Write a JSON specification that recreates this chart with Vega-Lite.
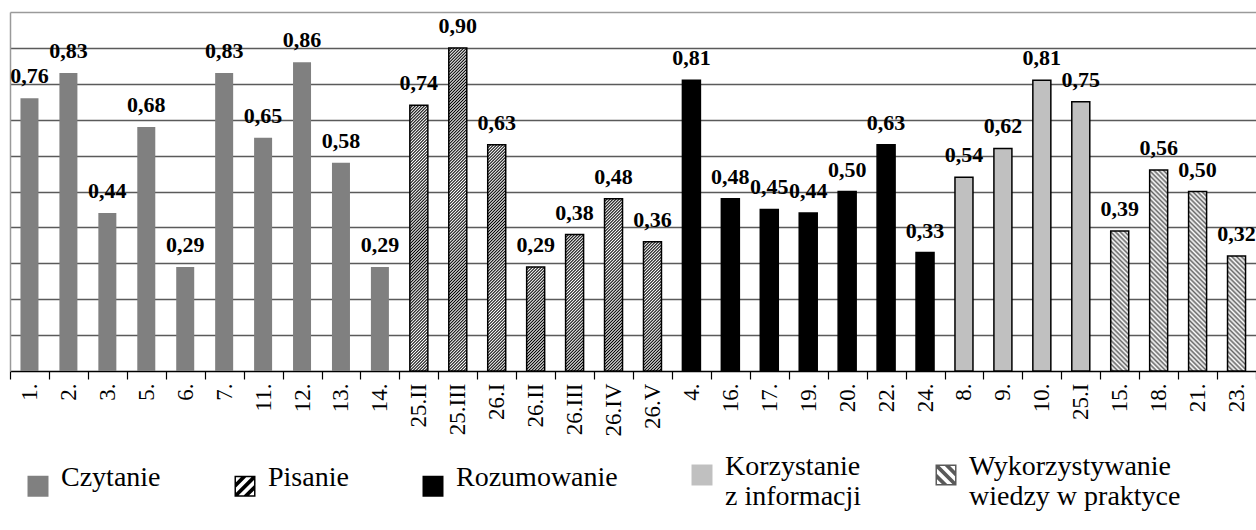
{
"$schema":"https://vega.github.io/schema/vega-lite/v6.json",
"width":1246,"height":359,
"autosize":{"type":"none"},
"padding":{"left":10,"top":12,"right":0,"bottom":159},
"background":"white",
"config":{"view":{"stroke":null},"font":"Liberation Serif"},
"data":{"values":[
{"q":"1.","v":0.76,"skill":"Czytanie"},
{"q":"2.","v":0.83,"skill":"Czytanie"},
{"q":"3.","v":0.44,"skill":"Czytanie"},
{"q":"5.","v":0.68,"skill":"Czytanie"},
{"q":"6.","v":0.29,"skill":"Czytanie"},
{"q":"7.","v":0.83,"skill":"Czytanie"},
{"q":"11.","v":0.65,"skill":"Czytanie"},
{"q":"12.","v":0.86,"skill":"Czytanie"},
{"q":"13.","v":0.58,"skill":"Czytanie"},
{"q":"14.","v":0.29,"skill":"Czytanie"},
{"q":"25.II","v":0.74,"skill":"Pisanie"},
{"q":"25.III","v":0.90,"skill":"Pisanie"},
{"q":"26.I","v":0.63,"skill":"Pisanie"},
{"q":"26.II","v":0.29,"skill":"Pisanie"},
{"q":"26.III","v":0.38,"skill":"Pisanie"},
{"q":"26.IV","v":0.48,"skill":"Pisanie"},
{"q":"26.V","v":0.36,"skill":"Pisanie"},
{"q":"4.","v":0.81,"skill":"Rozumowanie"},
{"q":"16.","v":0.48,"skill":"Rozumowanie"},
{"q":"17.","v":0.45,"skill":"Rozumowanie"},
{"q":"19.","v":0.44,"skill":"Rozumowanie"},
{"q":"20.","v":0.50,"skill":"Rozumowanie"},
{"q":"22.","v":0.63,"skill":"Rozumowanie"},
{"q":"24.","v":0.33,"skill":"Rozumowanie"},
{"q":"8.","v":0.54,"skill":"Korzystanie z informacji"},
{"q":"9.","v":0.62,"skill":"Korzystanie z informacji"},
{"q":"10.","v":0.81,"skill":"Korzystanie z informacji"},
{"q":"25.I","v":0.75,"skill":"Korzystanie z informacji"},
{"q":"15.","v":0.39,"skill":"Wykorzystywanie wiedzy w praktyce"},
{"q":"18.","v":0.56,"skill":"Wykorzystywanie wiedzy w praktyce"},
{"q":"21.","v":0.50,"skill":"Wykorzystywanie wiedzy w praktyce"},
{"q":"23.","v":0.32,"skill":"Wykorzystywanie wiedzy w praktyce"}
]},
"transform":[
{"calculate":"datum.v - 1","as":"lo"},
{"calculate":"replace(format(datum.v, '.2f'), '.', ',')","as":"lbl"}
],
"encoding":{
"x":{"field":"q","type":"nominal",
 "sort":["1.","2.","3.","5.","6.","7.","11.","12.","13.","14.","25.II","25.III","26.I","26.II","26.III","26.IV","26.V","4.","16.","17.","19.","20.","22.","24.","8.","9.","10.","25.I","15.","18.","21.","23."],
 "scale":{"paddingInner":0,"paddingOuter":0},
 "axis":{"title":null,"labelAngle":-90,"labelFont":"Liberation Serif","labelFontSize":23,"labelColor":"#000","tickBand":"extent","tickColor":"#000","tickSize":8,"tickWidth":1.2,"domainColor":"#000","domainWidth":1.5,"labelPadding":4,"grid":false}},
"y":{"field":"v","type":"quantitative","scale":{"domain":[0,1],"nice":false},
 "axis":{"title":null,"labels":false,"ticks":false,"domain":true,"domainColor":"#9a9a9a","domainWidth":1.5,"grid":true,"values":[0.1,0.2,0.3,0.4,0.5,0.6,0.7,0.8,0.9,1],
 "gridColor":{"condition":{"test":"datum.value >= 0.999","value":"#9a9a9a"},"value":"#5a5a5a"},"gridWidth":1.4}}
},
"layer":[
{"mark":{"type":"point","filled":true,"opacity":0,"size":1},
 "encoding":{
  "shape":{"field":"skill","type":"nominal",
   "scale":{"domain":["Czytanie","Pisanie","Rozumowanie","Korzystanie z informacji","Wykorzystywanie wiedzy w praktyce"],
    "range":["square",
     "M-1,-1H1V1H-1Z M-0.86,-0.86V0.86H0.86V-0.86Z M-1,-0.25L-0.25,-1L0.25,-1L-1,0.25Z M-1,0.75L0.75,-1L1,-1L1,-0.75L-0.75,1L-1,1Z M-0.25,1L1,-0.25L1,0.25L0.25,1Z",
     "square","square",
     "M-1,-1H1V1H-1Z M-0.86,-0.86V0.86H0.86V-0.86Z M1,0.25L-0.25,-1L0.25,-1L1,-0.25Z M1,1L0.75,1L-1,-0.75L-1,-1L-0.75,-1L1,0.75Z M-0.25,1L-1,0.25L-1,-0.25L0.25,1Z"]},
   "legend":{"title":null,"orient":"none","legendX":14,"legendY":449,"direction":"horizontal","columns":5,"columnPadding":70,"symbolSize":441,"symbolStrokeWidth":1.5,"symbolStrokeColor":"#000","labelFont":"Liberation Serif","labelFontSize":28,"labelColor":"#000","labelLimit":400,"labelOffset":9,"labelBaseline":"alphabetic","padding":0,
    "labelExpr":"datum.label === 'Korzystanie z informacji' ? ['Korzystanie', 'z informacji'] : datum.label === 'Wykorzystywanie wiedzy w praktyce' ? ['Wykorzystywanie', 'wiedzy w praktyce'] : datum.label"}}
 }},
{"transform":[{"filter":"datum.skill === 'Czytanie' || datum.skill === 'Rozumowanie' || datum.skill === 'Korzystanie z informacji'"}],
 "mark":{"type":"bar","size":18},
 "encoding":{
  "fill":{"field":"skill","type":"nominal",
   "scale":{"domain":["Czytanie","Pisanie","Rozumowanie","Korzystanie z informacji","Wykorzystywanie wiedzy w praktyce"],"range":["#808080","#000000","#000000","#c0c0c0","#5a5a5a"]},
   "legend":null},
  "stroke":{"value":"#000000"},
  "strokeWidth":{"condition":{"test":"datum.skill === 'Czytanie'","value":0},"value":1.5}
 }},
{"transform":[{"filter":"datum.skill === 'Pisanie' || datum.skill === 'Wykorzystywanie wiedzy w praktyce'"}],
 "mark":{"type":"bar","size":18,"clip":true},
 "encoding":{
  "y":{"field":"v","type":"quantitative"},
  "y2":{"field":"lo"},
  "fill":{"condition":{"test":"datum.skill === 'Pisanie'","value":{"gradient":"linear","x1":0,"y1":0,"x2":0.0525,"y2":1.0475,"stops":[
{"offset":0,"color":"#000"},{"offset":0.004,"color":"#fff"},{"offset":0.008,"color":"#000"},{"offset":0.012,"color":"#fff"},{"offset":0.016,"color":"#000"},{"offset":0.02,"color":"#fff"},{"offset":0.024,"color":"#000"},{"offset":0.028,"color":"#fff"},{"offset":0.032,"color":"#000"},{"offset":0.036,"color":"#fff"},
{"offset":0.04,"color":"#000"},{"offset":0.044,"color":"#fff"},{"offset":0.048,"color":"#000"},{"offset":0.052,"color":"#fff"},{"offset":0.056,"color":"#000"},{"offset":0.06,"color":"#fff"},{"offset":0.064,"color":"#000"},{"offset":0.068,"color":"#fff"},{"offset":0.072,"color":"#000"},{"offset":0.076,"color":"#fff"},
{"offset":0.08,"color":"#000"},{"offset":0.084,"color":"#fff"},{"offset":0.088,"color":"#000"},{"offset":0.092,"color":"#fff"},{"offset":0.096,"color":"#000"},{"offset":0.1,"color":"#fff"},{"offset":0.104,"color":"#000"},{"offset":0.108,"color":"#fff"},{"offset":0.112,"color":"#000"},{"offset":0.116,"color":"#fff"},
{"offset":0.12,"color":"#000"},{"offset":0.124,"color":"#fff"},{"offset":0.128,"color":"#000"},{"offset":0.132,"color":"#fff"},{"offset":0.136,"color":"#000"},{"offset":0.14,"color":"#fff"},{"offset":0.144,"color":"#000"},{"offset":0.148,"color":"#fff"},{"offset":0.152,"color":"#000"},{"offset":0.156,"color":"#fff"},
{"offset":0.16,"color":"#000"},{"offset":0.164,"color":"#fff"},{"offset":0.168,"color":"#000"},{"offset":0.172,"color":"#fff"},{"offset":0.176,"color":"#000"},{"offset":0.18,"color":"#fff"},{"offset":0.184,"color":"#000"},{"offset":0.188,"color":"#fff"},{"offset":0.192,"color":"#000"},{"offset":0.196,"color":"#fff"},
{"offset":0.2,"color":"#000"},{"offset":0.204,"color":"#fff"},{"offset":0.208,"color":"#000"},{"offset":0.212,"color":"#fff"},{"offset":0.216,"color":"#000"},{"offset":0.22,"color":"#fff"},{"offset":0.224,"color":"#000"},{"offset":0.228,"color":"#fff"},{"offset":0.232,"color":"#000"},{"offset":0.236,"color":"#fff"},
{"offset":0.24,"color":"#000"},{"offset":0.244,"color":"#fff"},{"offset":0.248,"color":"#000"},{"offset":0.252,"color":"#fff"},{"offset":0.256,"color":"#000"},{"offset":0.26,"color":"#fff"},{"offset":0.264,"color":"#000"},{"offset":0.268,"color":"#fff"},{"offset":0.272,"color":"#000"},{"offset":0.276,"color":"#fff"},
{"offset":0.28,"color":"#000"},{"offset":0.284,"color":"#fff"},{"offset":0.288,"color":"#000"},{"offset":0.292,"color":"#fff"},{"offset":0.296,"color":"#000"},{"offset":0.3,"color":"#fff"},{"offset":0.304,"color":"#000"},{"offset":0.308,"color":"#fff"},{"offset":0.312,"color":"#000"},{"offset":0.316,"color":"#fff"},
{"offset":0.32,"color":"#000"},{"offset":0.324,"color":"#fff"},{"offset":0.328,"color":"#000"},{"offset":0.332,"color":"#fff"},{"offset":0.336,"color":"#000"},{"offset":0.34,"color":"#fff"},{"offset":0.344,"color":"#000"},{"offset":0.348,"color":"#fff"},{"offset":0.352,"color":"#000"},{"offset":0.356,"color":"#fff"},
{"offset":0.36,"color":"#000"},{"offset":0.364,"color":"#fff"},{"offset":0.368,"color":"#000"},{"offset":0.372,"color":"#fff"},{"offset":0.376,"color":"#000"},{"offset":0.38,"color":"#fff"},{"offset":0.384,"color":"#000"},{"offset":0.388,"color":"#fff"},{"offset":0.392,"color":"#000"},{"offset":0.396,"color":"#fff"},
{"offset":0.4,"color":"#000"},{"offset":0.404,"color":"#fff"},{"offset":0.408,"color":"#000"},{"offset":0.412,"color":"#fff"},{"offset":0.416,"color":"#000"},{"offset":0.42,"color":"#fff"},{"offset":0.424,"color":"#000"},{"offset":0.428,"color":"#fff"},{"offset":0.432,"color":"#000"},{"offset":0.436,"color":"#fff"},
{"offset":0.44,"color":"#000"},{"offset":0.444,"color":"#fff"},{"offset":0.448,"color":"#000"},{"offset":0.452,"color":"#fff"},{"offset":0.456,"color":"#000"},{"offset":0.46,"color":"#fff"},{"offset":0.464,"color":"#000"},{"offset":0.468,"color":"#fff"},{"offset":0.472,"color":"#000"},{"offset":0.476,"color":"#fff"},
{"offset":0.48,"color":"#000"},{"offset":0.484,"color":"#fff"},{"offset":0.488,"color":"#000"},{"offset":0.492,"color":"#fff"},{"offset":0.496,"color":"#000"},{"offset":0.5,"color":"#fff"},{"offset":0.504,"color":"#000"},{"offset":0.508,"color":"#fff"},{"offset":0.512,"color":"#000"},{"offset":0.516,"color":"#fff"},
{"offset":0.52,"color":"#000"},{"offset":0.524,"color":"#fff"},{"offset":0.528,"color":"#000"},{"offset":0.532,"color":"#fff"},{"offset":0.536,"color":"#000"},{"offset":0.54,"color":"#fff"},{"offset":0.544,"color":"#000"},{"offset":0.548,"color":"#fff"},{"offset":0.552,"color":"#000"},{"offset":0.556,"color":"#fff"},
{"offset":0.56,"color":"#000"},{"offset":0.564,"color":"#fff"},{"offset":0.568,"color":"#000"},{"offset":0.572,"color":"#fff"},{"offset":0.576,"color":"#000"},{"offset":0.58,"color":"#fff"},{"offset":0.584,"color":"#000"},{"offset":0.588,"color":"#fff"},{"offset":0.592,"color":"#000"},{"offset":0.596,"color":"#fff"},
{"offset":0.6,"color":"#000"},{"offset":0.604,"color":"#fff"},{"offset":0.608,"color":"#000"},{"offset":0.612,"color":"#fff"},{"offset":0.616,"color":"#000"},{"offset":0.62,"color":"#fff"},{"offset":0.624,"color":"#000"},{"offset":0.628,"color":"#fff"},{"offset":0.632,"color":"#000"},{"offset":0.636,"color":"#fff"},
{"offset":0.64,"color":"#000"},{"offset":0.644,"color":"#fff"},{"offset":0.648,"color":"#000"},{"offset":0.652,"color":"#fff"},{"offset":0.656,"color":"#000"},{"offset":0.66,"color":"#fff"},{"offset":0.664,"color":"#000"},{"offset":0.668,"color":"#fff"},{"offset":0.672,"color":"#000"},{"offset":0.676,"color":"#fff"},
{"offset":0.68,"color":"#000"},{"offset":0.684,"color":"#fff"},{"offset":0.688,"color":"#000"},{"offset":0.692,"color":"#fff"},{"offset":0.696,"color":"#000"},{"offset":0.7,"color":"#fff"},{"offset":0.704,"color":"#000"},{"offset":0.708,"color":"#fff"},{"offset":0.712,"color":"#000"},{"offset":0.716,"color":"#fff"},
{"offset":0.72,"color":"#000"},{"offset":0.724,"color":"#fff"},{"offset":0.728,"color":"#000"},{"offset":0.732,"color":"#fff"},{"offset":0.736,"color":"#000"},{"offset":0.74,"color":"#fff"},{"offset":0.744,"color":"#000"},{"offset":0.748,"color":"#fff"},{"offset":0.752,"color":"#000"},{"offset":0.756,"color":"#fff"},
{"offset":0.76,"color":"#000"},{"offset":0.764,"color":"#fff"},{"offset":0.768,"color":"#000"},{"offset":0.772,"color":"#fff"},{"offset":0.776,"color":"#000"},{"offset":0.78,"color":"#fff"},{"offset":0.784,"color":"#000"},{"offset":0.788,"color":"#fff"},{"offset":0.792,"color":"#000"},{"offset":0.796,"color":"#fff"},
{"offset":0.8,"color":"#000"},{"offset":0.804,"color":"#fff"},{"offset":0.808,"color":"#000"},{"offset":0.812,"color":"#fff"},{"offset":0.816,"color":"#000"},{"offset":0.82,"color":"#fff"},{"offset":0.824,"color":"#000"},{"offset":0.828,"color":"#fff"},{"offset":0.832,"color":"#000"},{"offset":0.836,"color":"#fff"},
{"offset":0.84,"color":"#000"},{"offset":0.844,"color":"#fff"},{"offset":0.848,"color":"#000"},{"offset":0.852,"color":"#fff"},{"offset":0.856,"color":"#000"},{"offset":0.86,"color":"#fff"},{"offset":0.864,"color":"#000"},{"offset":0.868,"color":"#fff"},{"offset":0.872,"color":"#000"},{"offset":0.876,"color":"#fff"},
{"offset":0.88,"color":"#000"},{"offset":0.884,"color":"#fff"},{"offset":0.888,"color":"#000"},{"offset":0.892,"color":"#fff"},{"offset":0.896,"color":"#000"},{"offset":0.9,"color":"#fff"},{"offset":0.904,"color":"#000"},{"offset":0.908,"color":"#fff"},{"offset":0.912,"color":"#000"},{"offset":0.916,"color":"#fff"},
{"offset":0.92,"color":"#000"},{"offset":0.924,"color":"#fff"},{"offset":0.928,"color":"#000"},{"offset":0.932,"color":"#fff"},{"offset":0.936,"color":"#000"},{"offset":0.94,"color":"#fff"},{"offset":0.944,"color":"#000"},{"offset":0.948,"color":"#fff"},{"offset":0.952,"color":"#000"},{"offset":0.956,"color":"#fff"},
{"offset":0.96,"color":"#000"},{"offset":0.964,"color":"#fff"},{"offset":0.968,"color":"#000"},{"offset":0.972,"color":"#fff"},{"offset":0.976,"color":"#000"},{"offset":0.98,"color":"#fff"},{"offset":0.984,"color":"#000"},{"offset":0.988,"color":"#fff"},{"offset":0.992,"color":"#000"},{"offset":0.996,"color":"#fff"},
{"offset":1,"color":"#000"}]}},
  "value":{"gradient":"linear","x1":0,"y1":1,"x2":0.0525,"y2":-0.0475,"stops":[
{"offset":0,"color":"#666"},{"offset":0.00625,"color":"#fff"},{"offset":0.0125,"color":"#666"},{"offset":0.01875,"color":"#fff"},
{"offset":0.025,"color":"#666"},{"offset":0.03125,"color":"#fff"},{"offset":0.0375,"color":"#666"},{"offset":0.04375,"color":"#fff"},
{"offset":0.05,"color":"#666"},{"offset":0.05625,"color":"#fff"},{"offset":0.0625,"color":"#666"},{"offset":0.06875,"color":"#fff"},
{"offset":0.075,"color":"#666"},{"offset":0.08125,"color":"#fff"},{"offset":0.0875,"color":"#666"},{"offset":0.09375,"color":"#fff"},
{"offset":0.1,"color":"#666"},{"offset":0.10625,"color":"#fff"},{"offset":0.1125,"color":"#666"},{"offset":0.11875,"color":"#fff"},
{"offset":0.125,"color":"#666"},{"offset":0.13125,"color":"#fff"},{"offset":0.1375,"color":"#666"},{"offset":0.14375,"color":"#fff"},
{"offset":0.15,"color":"#666"},{"offset":0.15625,"color":"#fff"},{"offset":0.1625,"color":"#666"},{"offset":0.16875,"color":"#fff"},
{"offset":0.175,"color":"#666"},{"offset":0.18125,"color":"#fff"},{"offset":0.1875,"color":"#666"},{"offset":0.19375,"color":"#fff"},
{"offset":0.2,"color":"#666"},{"offset":0.20625,"color":"#fff"},{"offset":0.2125,"color":"#666"},{"offset":0.21875,"color":"#fff"},
{"offset":0.225,"color":"#666"},{"offset":0.23125,"color":"#fff"},{"offset":0.2375,"color":"#666"},{"offset":0.24375,"color":"#fff"},
{"offset":0.25,"color":"#666"},{"offset":0.25625,"color":"#fff"},{"offset":0.2625,"color":"#666"},{"offset":0.26875,"color":"#fff"},
{"offset":0.275,"color":"#666"},{"offset":0.28125,"color":"#fff"},{"offset":0.2875,"color":"#666"},{"offset":0.29375,"color":"#fff"},
{"offset":0.3,"color":"#666"},{"offset":0.30625,"color":"#fff"},{"offset":0.3125,"color":"#666"},{"offset":0.31875,"color":"#fff"},
{"offset":0.325,"color":"#666"},{"offset":0.33125,"color":"#fff"},{"offset":0.3375,"color":"#666"},{"offset":0.34375,"color":"#fff"},
{"offset":0.35,"color":"#666"},{"offset":0.35625,"color":"#fff"},{"offset":0.3625,"color":"#666"},{"offset":0.36875,"color":"#fff"},
{"offset":0.375,"color":"#666"},{"offset":0.38125,"color":"#fff"},{"offset":0.3875,"color":"#666"},{"offset":0.39375,"color":"#fff"},
{"offset":0.4,"color":"#666"},{"offset":0.40625,"color":"#fff"},{"offset":0.4125,"color":"#666"},{"offset":0.41875,"color":"#fff"},
{"offset":0.425,"color":"#666"},{"offset":0.43125,"color":"#fff"},{"offset":0.4375,"color":"#666"},{"offset":0.44375,"color":"#fff"},
{"offset":0.45,"color":"#666"},{"offset":0.45625,"color":"#fff"},{"offset":0.4625,"color":"#666"},{"offset":0.46875,"color":"#fff"},
{"offset":0.475,"color":"#666"},{"offset":0.48125,"color":"#fff"},{"offset":0.4875,"color":"#666"},{"offset":0.49375,"color":"#fff"},
{"offset":0.5,"color":"#666"},{"offset":0.50625,"color":"#fff"},{"offset":0.5125,"color":"#666"},{"offset":0.51875,"color":"#fff"},
{"offset":0.525,"color":"#666"},{"offset":0.53125,"color":"#fff"},{"offset":0.5375,"color":"#666"},{"offset":0.54375,"color":"#fff"},
{"offset":0.55,"color":"#666"},{"offset":0.55625,"color":"#fff"},{"offset":0.5625,"color":"#666"},{"offset":0.56875,"color":"#fff"},
{"offset":0.575,"color":"#666"},{"offset":0.58125,"color":"#fff"},{"offset":0.5875,"color":"#666"},{"offset":0.59375,"color":"#fff"},
{"offset":0.6,"color":"#666"},{"offset":0.60625,"color":"#fff"},{"offset":0.6125,"color":"#666"},{"offset":0.61875,"color":"#fff"},
{"offset":0.625,"color":"#666"},{"offset":0.63125,"color":"#fff"},{"offset":0.6375,"color":"#666"},{"offset":0.64375,"color":"#fff"},
{"offset":0.65,"color":"#666"},{"offset":0.65625,"color":"#fff"},{"offset":0.6625,"color":"#666"},{"offset":0.66875,"color":"#fff"},
{"offset":0.675,"color":"#666"},{"offset":0.68125,"color":"#fff"},{"offset":0.6875,"color":"#666"},{"offset":0.69375,"color":"#fff"},
{"offset":0.7,"color":"#666"},{"offset":0.70625,"color":"#fff"},{"offset":0.7125,"color":"#666"},{"offset":0.71875,"color":"#fff"},
{"offset":0.725,"color":"#666"},{"offset":0.73125,"color":"#fff"},{"offset":0.7375,"color":"#666"},{"offset":0.74375,"color":"#fff"},
{"offset":0.75,"color":"#666"},{"offset":0.75625,"color":"#fff"},{"offset":0.7625,"color":"#666"},{"offset":0.76875,"color":"#fff"},
{"offset":0.775,"color":"#666"},{"offset":0.78125,"color":"#fff"},{"offset":0.7875,"color":"#666"},{"offset":0.79375,"color":"#fff"},
{"offset":0.8,"color":"#666"},{"offset":0.80625,"color":"#fff"},{"offset":0.8125,"color":"#666"},{"offset":0.81875,"color":"#fff"},
{"offset":0.825,"color":"#666"},{"offset":0.83125,"color":"#fff"},{"offset":0.8375,"color":"#666"},{"offset":0.84375,"color":"#fff"},
{"offset":0.85,"color":"#666"},{"offset":0.85625,"color":"#fff"},{"offset":0.8625,"color":"#666"},{"offset":0.86875,"color":"#fff"},
{"offset":0.875,"color":"#666"},{"offset":0.88125,"color":"#fff"},{"offset":0.8875,"color":"#666"},{"offset":0.89375,"color":"#fff"},
{"offset":0.9,"color":"#666"},{"offset":0.90625,"color":"#fff"},{"offset":0.9125,"color":"#666"},{"offset":0.91875,"color":"#fff"},
{"offset":0.925,"color":"#666"},{"offset":0.93125,"color":"#fff"},{"offset":0.9375,"color":"#666"},{"offset":0.94375,"color":"#fff"},
{"offset":0.95,"color":"#666"},{"offset":0.95625,"color":"#fff"},{"offset":0.9625,"color":"#666"},{"offset":0.96875,"color":"#fff"},
{"offset":0.975,"color":"#666"},{"offset":0.98125,"color":"#fff"},{"offset":0.9875,"color":"#666"},{"offset":0.99375,"color":"#fff"},
{"offset":1,"color":"#666"}]}}
 }},
{"transform":[{"filter":"datum.skill === 'Pisanie' || datum.skill === 'Wykorzystywanie wiedzy w praktyce'"}],
 "mark":{"type":"bar","size":18,"fill":"transparent","stroke":"#000000","strokeWidth":1.5}},
{"mark":{"type":"text","dy":-15,"baseline":"alphabetic","align":"center","font":"Liberation Serif","fontWeight":"bold","fontSize":22,"color":"#000000"},
 "encoding":{"text":{"field":"lbl","type":"nominal"}}}
]
}
